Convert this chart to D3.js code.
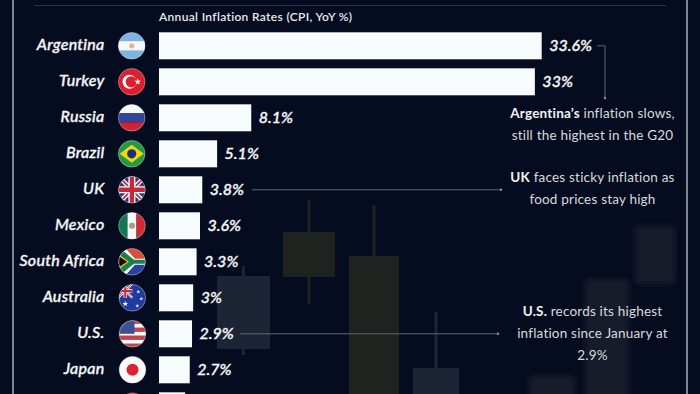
<!DOCTYPE html>
<html>
<head>
<meta charset="utf-8">
<style>
html, body { margin: 0; padding: 0; background: #060c20; overflow: hidden; }
svg { display: block; }
text { font-family: Lato, sans-serif; }
</style>
</head>
<body>
<svg width="700" height="394"></svg>
<script src="https://d3js.org/d3.v7.min.js"></script>
<script>
// values; the last row is cut off by the bottom edge, its name is not visible
var countries = ['Argentina', 'Turkey', 'Russia', 'Brazil', 'UK', 'Mexico', 'South Africa', 'Australia', 'U.S.', 'Japan', ''];
var rates = [33.6, 33, 8.1, 5.1, 3.8, 3.6, 3.3, 3, 2.9, 2.7, 2.3];
var rateLabels = ['33.6%', '33%', '8.1%', '5.1%', '3.8%', '3.6%', '3.3%', '3%', '2.9%', '2.7%', ''];
var chartTitle = 'Annual Inflation Rates (CPI, YoY %)';
var notes = [
    {bold: 'Argentina’s', lines: [' inflation slows,', 'still the highest in the G20']},
    {bold: 'UK', lines: [' faces sticky inflation as', 'food prices stay high']},
    {bold: 'U.S.', lines: [' records its highest', 'inflation since January at', '2.9%']}
];

var svg = d3.select('svg');
var defs = svg.append('defs');
defs.append('filter').attr('id', 'soft').append('feGaussianBlur').attr('stdDeviation', 3);
defs.append('clipPath').attr('id', 'disc').append('circle').attr('r', 13.3);

// faded candlesticks behind the chart
var bg = svg.append('g');
function candle(x0, x1, top, bottom, wickTop, wickBottom, color, blur) {
    var c = bg.append('g').attr('fill', color);
    if (blur) c.attr('filter', 'url(#soft)');
    c.append('rect').attr('x', (x0 + x1) / 2 - 1.5).attr('width', 3)
        .attr('y', wickTop).attr('height', wickBottom - wickTop);
    c.append('rect').attr('x', x0).attr('width', x1 - x0)
        .attr('y', top).attr('height', bottom - top).attr('rx', 1);
}
candle(283, 335, 232, 277, 200, 304, '#1e231f');
candle(349, 399, 256, 400, 205, 256, '#1e231f');
candle(217, 270, 276, 349, 266, 355, '#1b2536');
candle(413, 459, 368, 400, 312, 368, '#1b2536');
candle(635, 675, 226, 284, 226, 284, '#141e2c', true);
candle(585, 629, 279, 400, 279, 400, '#141e2c', true);
candle(529, 575, 376, 400, 376, 400, '#141e2c', true);

// frame
var frame = svg.append('g');
frame.append('line').attr('x1', 13).attr('x2', 13).attr('y1', 0).attr('y2', 394).attr('stroke', '#b4b8c4').attr('stroke-width', 1.4);
frame.append('line').attr('x1', 687).attr('x2', 687).attr('y1', 0).attr('y2', 394).attr('stroke', '#b4b8c4').attr('stroke-width', 1.4);
frame.append('line').attr('x1', 34).attr('x2', 666).attr('y1', 5.5).attr('y2', 5.5).attr('stroke', '#2b3147').attr('stroke-width', 1.2);

// scales
var x = d3.scaleLinear().domain([0, 33.6]).range([159, 541.7]);
var y = d3.scaleBand().domain(countries).range([32.3, 419.3]).paddingInner(0.25);
var rowMid = function (i) { return y(countries[i]) + y.bandwidth() / 2; };

svg.append('text')
    .attr('x', x(0)).attr('y', 21)
    .attr('fill', '#e8eaee').attr('font-size', 12).attr('font-weight', 600)
    .attr('letter-spacing', 0.33)
    .text(chartTitle);

// bars
svg.append('g').selectAll('rect').data(rates).join('rect')
    .attr('x', x(0))
    .attr('y', function (d, i) { return y(countries[i]); })
    .attr('width', function (d) { return x(d) - x(0); })
    .attr('height', y.bandwidth())
    .attr('fill', '#f8fbfb');

// country names, thin stroke to get a medium weight
var axis = svg.append('g')
    .attr('transform', 'translate(104.5,-0.5)')
    .call(d3.axisLeft(y).tickSize(0).tickPadding(0));
axis.select('.domain').remove();
axis.selectAll('text')
    .attr('fill', '#f6f7f8').attr('stroke', '#f6f7f8').attr('stroke-width', 0.35)
    .attr('font-size', 16).attr('font-weight', 500)
    .attr('font-style', 'italic').attr('font-family', 'Lato, sans-serif')
    .attr('letter-spacing', 0.25);

// value labels
svg.append('g').selectAll('text').data(rates).join('text')
    .attr('x', function (d) { return x(d) + 7.5; })
    .attr('y', function (d, i) { return rowMid(i) + 4.7; })
    .attr('fill', '#f6f7f8').attr('stroke', '#f6f7f8').attr('stroke-width', 0.35)
    .attr('font-size', 16).attr('font-weight', 500)
    .attr('font-style', 'italic').attr('letter-spacing', 0)
    .text(function (d, i) { return rateLabels[i]; });

// flags
function rect(g, fill, rx, ry, w, h) {
    return g.append('rect').attr('x', rx).attr('y', ry).attr('width', w).attr('height', h).attr('fill', fill);
}
function line(g, color, w, a, b, c, d) {
    g.append('line').attr('x1', a).attr('y1', b).attr('x2', c).attr('y2', d).attr('stroke', color).attr('stroke-width', w);
}
function poly(g, fill, pts) {
    g.append('polygon').attr('points', pts).attr('fill', fill);
}
function star(g, cx, cy, size) {
    g.append('path').attr('d', d3.symbol(d3.symbolStar, size)()).attr('fill', '#fff')
        .attr('transform', 'translate(' + cx + ',' + cy + ')');
}
function jack(g, s) {
    line(g, '#fff', 4.4 * s, -14 * s, -14 * s, 14 * s, 14 * s);
    line(g, '#fff', 4.4 * s, -14 * s, 14 * s, 14 * s, -14 * s);
    line(g, '#c8283c', 1.8 * s, -14 * s, -14 * s, 14 * s, 14 * s);
    line(g, '#c8283c', 1.8 * s, -14 * s, 14 * s, 14 * s, -14 * s);
    line(g, '#fff', 7 * s, 0, -14 * s, 0, 14 * s);
    line(g, '#fff', 7 * s, -14 * s, 0, 14 * s, 0);
    line(g, '#c8283c', 4.4 * s, 0, -14 * s, 0, 14 * s);
    line(g, '#c8283c', 4.4 * s, -14 * s, 0, 14 * s, 0);
}
var flagDrawers = [
    function (g) { // Argentina
        rect(g, '#7db4e2', -14, -14, 28, 28);
        rect(g, '#f6f7f8', -14, -4.6, 28, 9.2);
        g.append('circle').attr('r', 2.6).attr('fill', '#e2b296');
    },
    function (g) { // Turkey
        rect(g, '#dc1f2e', -14, -14, 28, 28);
        g.append('circle').attr('cx', -2.2).attr('r', 7).attr('fill', '#fff');
        g.append('circle').attr('cx', -0.4).attr('r', 5.6).attr('fill', '#dc1f2e');
        star(g, 6, 0, 14);
    },
    function (g) { // Russia
        rect(g, '#f6f7f8', -14, -14, 28, 9.5);
        rect(g, '#33459a', -14, -4.5, 28, 9);
        rect(g, '#cf2233', -14, 4.5, 28, 9.5);
    },
    function (g) { // Brazil
        rect(g, '#1f9a45', -14, -14, 28, 28);
        poly(g, '#f4d60f', '-12,0 0,-9 12,0 0,9');
        g.append('circle').attr('r', 4.6).attr('fill', '#1f2f72');
    },
    function (g) { // UK
        rect(g, '#2a3a7c', -14, -14, 28, 28);
        jack(g, 1);
    },
    function (g) { // Mexico
        rect(g, '#12784f', -14, -14, 9.5, 28);
        rect(g, '#f6f7f8', -4.5, -14, 9, 28);
        rect(g, '#cf2b37', 4.5, -14, 9.5, 28);
        g.append('circle').attr('r', 3).attr('fill', '#a89a84');
    },
    function (g) { // South Africa
        rect(g, '#d9503f', -14, -14, 28, 14);
        rect(g, '#2a3f9e', -14, 0, 28, 14);
        poly(g, '#fff', '-14,-14 -7,-14 3,-3 14,-3 14,3 3,3 -7,14 -14,14');
        poly(g, '#16824c', '-14,-11 -9,-11 2,-2 14,-2 14,2 2,2 -9,11 -14,11');
        poly(g, '#f2b81c', '-14,-8 -3,0 -14,8');
        poly(g, '#0c0c0c', '-14,-6 -5,0 -14,6');
    },
    function (g) { // Australia
        rect(g, '#1f3ba0', -14, -14, 28, 28);
        var corner = g.append('g').attr('transform', 'translate(-7,-7)');
        rect(corner, '#1f3ba0', -7, -7, 14, 14);
        jack(corner, 0.5);
        star(g, -7, 6, 10);
        star(g, 6, -6, 5);
        star(g, 9, 1, 5);
        star(g, 5, 8, 5);
    },
    function (g) { // U.S.
        d3.range(7).forEach(function (i) {
            rect(g, i % 2 ? '#f6f7f8' : '#c8404a', -14, -14 + i * 4, 28, 4);
        });
        rect(g, '#3f4f96', -14, -14, 16, 14);
    },
    function (g) { // Japan
        rect(g, '#fbfbfb', -14, -14, 28, 28);
        g.append('circle').attr('r', 6).attr('fill', '#dc2230');
    },
    function (g) { // last row, only the top edge shows
        rect(g, '#e0505c', -14, -14, 28, 14);
        rect(g, '#f6f7f8', -14, 0, 28, 14);
    }
];
var flagX = [131.7, 131.7, 131.7, 131.7, 131.9, 132, 132, 132.3, 132.5, 132.5, 132.5];
flagDrawers.forEach(function (draw, i) {
    var f = svg.append('g').attr('transform', 'translate(' + flagX[i] + ',' + rowMid(i) + ')');
    var inner = f.append('g').attr('clip-path', 'url(#disc)');
    draw(inner);
    if (i < 10) f.append('circle').attr('r', 13.3).attr('fill', 'none').attr('stroke', '#e6e2e2').attr('stroke-opacity', 0.55).attr('stroke-width', 0.8);
});

// connectors
var linkColor = '#5f6676';
var links = svg.append('g').attr('fill', 'none').attr('stroke', linkColor).attr('stroke-width', 1);
links.append('path').attr('d', d3.line()([[597, rowMid(0)], [605, rowMid(0)], [605, 98]]));
links.append('line').attr('x1', 252).attr('x2', 501).attr('y1', rowMid(4)).attr('y2', rowMid(4));
links.append('line').attr('x1', 240).attr('x2', 498).attr('y1', rowMid(8)).attr('y2', rowMid(8));
svg.append('g').attr('fill', '#8a90a0').selectAll('circle')
    .data([[605, 98], [501, rowMid(4)], [498, rowMid(8)]]).join('circle')
    .attr('cx', function (d) { return d[0]; }).attr('cy', function (d) { return d[1]; }).attr('r', 1.2);

// notes on the right
var noteY = [118, 182, 316];
var note = svg.append('g').attr('text-anchor', 'middle').attr('fill', '#d8dade')
    .attr('font-size', 13.5).attr('letter-spacing', 0.2);
notes.forEach(function (n, k) {
    n.lines.forEach(function (txt, i) {
        var t = note.append('text').attr('x', 592.5).attr('y', noteY[k] + i * 22);
        if (i === 0) t.append('tspan').attr('font-weight', 700).attr('fill', '#f2f3f5').text(n.bold);
        t.append('tspan').text(txt);
    });
});
</script>
</body>
</html>
